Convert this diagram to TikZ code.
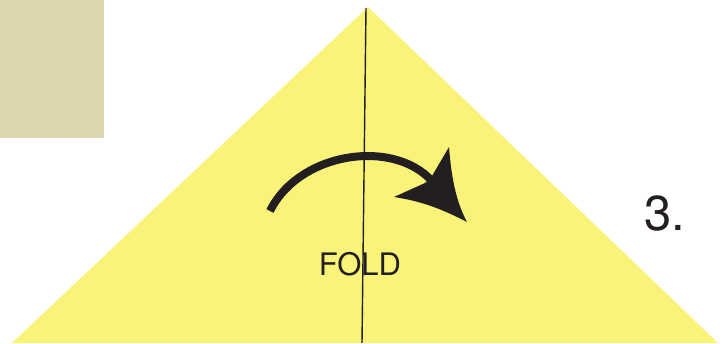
\documentclass[tikz,border=0pt]{standalone}
\usepackage{fontspec}
\setmainfont{TeX Gyre Heros}
\definecolor{paper}{HTML}{F9F37A}
\definecolor{tab}{HTML}{DBD6AE}
\definecolor{ink}{HTML}{231F20}
\begin{document}
\begin{tikzpicture}[x=1pt,y=-1pt,
  lbl/.style={inner sep=0pt,text=ink},
  foldline/.style={draw=ink,line width=1.4pt},
  arrowshaft/.style={draw=ink,line width=8pt}]
\useasboundingbox (0,0) rectangle (723,343);
% gray tab
\fill[tab] (0,0) rectangle (104,138);
% yellow paper triangle
\fill[paper] (368,7) -- (718,343) -- (12,343) -- cycle;
% fold line
\coordinate (ltop) at (366,8);
\coordinate (lbot) at (362,343);
\draw[foldline] (ltop) -- (lbot);
% curved arrow
\coordinate (astart) at (270,211);
\coordinate (aend) at (436,186);
\draw[arrowshaft] (astart) .. controls (300,150) and (400,137) .. (aend);
\fill[ink] (449,147) .. controls (452,185) and (458,205) .. (467,222)
  .. controls (440,208) and (420,201) .. (394,197)
  -- (425,183) -- (432,176) -- cycle;
% texts
\node[lbl,anchor=base,font=\fontsize{31}{31}\selectfont] (fold) at (360,275) {FOLD};
\node[lbl,anchor=base west,font=\fontsize{49}{49}\selectfont] (num) at (644,230) {3.};
\end{tikzpicture}
\end{document}
